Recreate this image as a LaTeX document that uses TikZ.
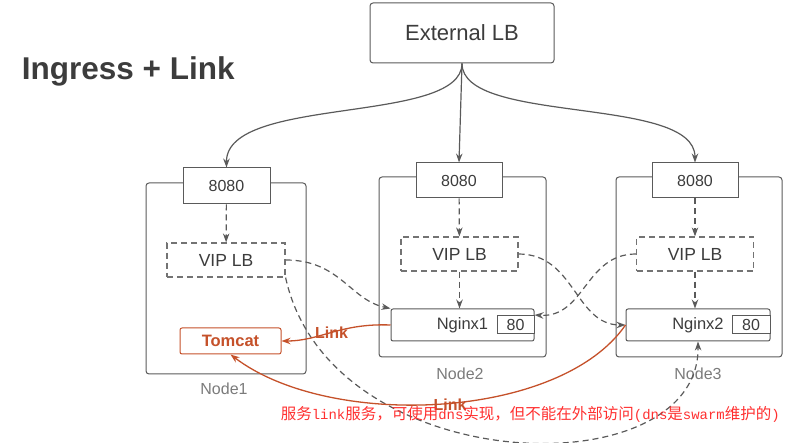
\documentclass[tikz,border=0pt]{standalone}
\usepackage{fontspec}
\usetikzlibrary{arrows.meta}
\setmainfont{Liberation Sans}
\newfontfamily\cjk{Noto Sans CJK SC}
\newfontfamily\cnmono[Scale=0.9]{Liberation Mono}
\definecolor{line}{HTML}{5A5A5A}
\definecolor{txt}{HTML}{3C3C3C}
\definecolor{link}{HTML}{C5512A}
\definecolor{note}{HTML}{FF2F2F}

\begin{document}
\begin{tikzpicture}[x=1pt, y=-1pt, line width=1pt,
	box/.style = {draw=line, fill=white, inner sep=0pt, text=txt, font=\fontsize{16}{16}\selectfont},
	host/.style = {draw=line, rounded corners=3pt, inner sep=0pt},
	hostlabel/.style = {text=line!80, font=\fontsize{16}{16}\selectfont},
	vip/.style = {box, draw=line!85, line width=1.2pt, dash pattern=on 6pt off 4pt, minimum width=118pt, minimum height=34pt, font=\fontsize{17.5}{17.5}\selectfont},
	port/.style = {box, minimum width=87pt, minimum height=36pt},
	ngx/.style = {box, rounded corners=2pt, minimum width=144pt, minimum height=32pt, font=\fontsize{16.5}{16.5}\selectfont},
	eighty/.style = {box, minimum width=37pt, minimum height=18pt},
	arr/.style = {draw=line, line width=1.2pt, -{Stealth[length=9pt, width=6.5pt]}},
	darr/.style = {arr, dash pattern=on 6pt off 4pt},
	larr/.style = {draw=link, line width=1.3pt, -{Stealth[length=9pt, width=6.5pt]}},
	linklabel/.style = {text=link, font=\bfseries\fontsize{16}{16}\selectfont}]
	\useasboundingbox (0,0) rectangle (796,443);

	\node[anchor=base west, text=txt, font=\bfseries\fontsize{31.5}{31.5}\selectfont] (title) at (18,80) {Ingress + Link};
	\node[box, rounded corners=3pt, minimum width=184pt, minimum height=60pt, font=\fontsize{22}{22}\selectfont] (ext) at (462,33) {External LB};

	\node[host, minimum width=160pt, minimum height=191pt] (hosta) at (226,278.5) {};
	\node[host, minimum width=167pt, minimum height=180pt] (hostb) at (462.5,267) {};
	\node[host, minimum width=166pt, minimum height=180pt] (hostc) at (699,267) {};
	\node[hostlabel] (namea) at (224,389) {Node1};
	\node[hostlabel] (nameb) at (460,374) {Node2};
	\node[hostlabel] (namec) at (698,374) {Node3};

	\node[port] (pa) at (226.5,186) {8080};
	\node[port, minimum width=86pt, minimum height=35pt] (pb) at (459,180.5) {8080};
	\node[port, minimum width=86pt, minimum height=35pt] (pc) at (695,180.5) {8080};

	\node[vip] (vipa) at (226,260) {VIP LB};
	\node[vip, minimum width=117pt] (vipb) at (459.5,254) {VIP LB};
	\node[vip, minimum width=117pt] (vipc) at (695,254) {VIP LB};

	\node[box, draw=link, text=link, rounded corners=2pt, minimum width=101pt, minimum height=26pt, font=\bfseries\fontsize{16.5}{16.5}\selectfont] (tomcat) at (230.5,341) {Tomcat};
	\node[ngx, minimum width=143pt] (nginxa) at (462.5,325) {Nginx1};
	\node[ngx] (nginxb) at (698,325) {Nginx2};
	\node[eighty] (eightya) at (515.5,324.5) {80};
	\node[eighty, minimum width=38pt] (eightyb) at (751,324.5) {80};

	\draw[arr] (ext.south) .. controls (462,125) and (226,95) .. (pa.north);
	\draw[arr] (ext.south) -- (pb.north);
	\draw[arr] (ext.south) .. controls (462,125) and (695,95) .. (pc.north);

	\draw[darr] (pa) -- (vipa);
	\draw[darr] (pb) -- (vipb);
	\draw[darr] (pc) -- (vipc);
	\draw[darr] (vipb) -- (nginxa.north -| vipb);
	\draw[darr] (vipc) -- (nginxb.north -| vipc);

	\draw[darr] (vipa.east) .. controls (340,260) and (350,300) .. (nginxa.north west);
	\draw[darr] (vipa.south east) .. controls (330,480) and (700,490) .. (nginxb.south);
	\draw[darr] (vipb.east) .. controls (575,254) and (575,325) .. (nginxb.west);
	\draw[darr] (vipc.west) .. controls (585,254) and (585,318) .. (nginxa.east |- eightya.north);

	\draw[larr] (nginxa.west) .. controls (340,323) and (320,341) .. (tomcat.east) node[linklabel, pos=0.5] (linka) {Link};
	\draw[larr] (nginxb.west) .. controls (560,420) and (330,430) .. (tomcat.south) node[linklabel, pos=0.48, yshift=-2pt] (linkb) {Link};

	\node[anchor=west, text=note, font=\cjk\fontsize{15.5}{15.5}\selectfont] (note) at (277,414) {服务{\cnmono link}服务，可使用{\cnmono dns}实现，但不能在外部访问{\cnmono(dns}是{\cnmono swarm}维护的{\cnmono)}};
\end{tikzpicture}
\end{document}
